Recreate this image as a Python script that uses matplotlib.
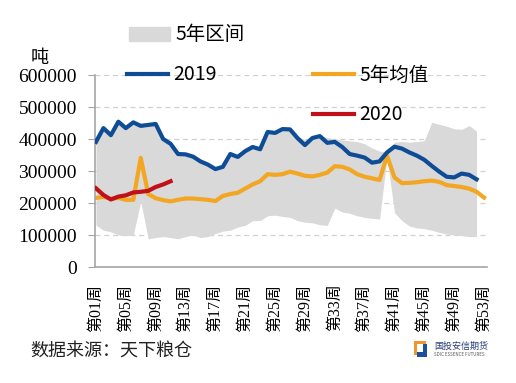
import matplotlib
matplotlib.use("Agg")
import matplotlib.pyplot as plt
from matplotlib.patches import Rectangle, Patch
from matplotlib.lines import Line2D
from matplotlib.font_manager import FontProperties
import numpy as np

# axis text is serif (digits) with CJK fallback; legend and notes are sans
plt.rcParams['font.family'] = ['Liberation Serif', 'DejaVu Serif', 'Noto Sans CJK SC']
sans = ['Noto Sans CJK SC', 'DejaVu Sans']

# weekly inventory, tonnes
weeks = np.arange(1, 54)
tick_weeks = [1, 5, 9, 13, 17, 21, 25, 29, 33, 37, 41, 45, 49, 53]
tick_labels = ["第%02d周" % w for w in tick_weeks]

y2019 = [391000, 434000, 412000, 454000, 434000, 452000, 441000, 444000, 447000, 400000,
         385000, 353000, 352000, 345000, 330000, 320000, 306000, 313000, 353000, 344000,
         362000, 375000, 368000, 422000, 419000, 431000, 430000, 403000, 381000, 403000,
         409000, 388000, 391000, 375000, 353000, 348000, 342000, 326000, 330000, 358000,
         376000, 370000, 358000, 348000, 335000, 316000, 298000, 282000, 280000, 292000,
         288000, 274000]

avg5 = [216000, 219000, 213000, 216000, 210000, 210000, 341000, 228000, 215000, 209000,
        205000, 210000, 214000, 214000, 212000, 210000, 206000, 222000, 228000, 232000,
        245000, 258000, 268000, 290000, 288000, 290000, 298000, 292000, 285000, 283000,
        288000, 295000, 315000, 313000, 305000, 290000, 282000, 277000, 272000, 348000,
        280000, 262000, 263000, 265000, 268000, 270000, 266000, 256000, 253000, 250000,
        245000, 235000, 217000]

y2020 = [246000, 225000, 211000, 220000, 224000, 233000, 235000, 238000, 250000, 258000,
         268000]

band_hi = [395000, 434000, 415000, 454000, 436000, 452000, 443000, 445000, 447000, 400000,
           385000, 355000, 352000, 345000, 332000, 322000, 308000, 315000, 355000, 346000,
           364000, 376000, 370000, 424000, 421000, 433000, 432000, 408000, 398000, 405000,
           410000, 405000, 400000, 397000, 394000, 392000, 385000, 372000, 362000, 360000,
           390000, 392000, 390000, 392000, 395000, 452000, 446000, 440000, 432000, 430000,
           442000, 425000]

band_lo = [131000, 115000, 110000, 100000, 98000, 100000, 205000, 88000, 92000, 95000,
           92000, 88000, 95000, 100000, 92000, 95000, 105000, 112000, 115000, 125000,
           130000, 145000, 145000, 160000, 162000, 158000, 155000, 145000, 140000, 138000,
           132000, 130000, 184000, 172000, 168000, 160000, 155000, 152000, 150000, 342000,
           170000, 145000, 128000, 122000, 120000, 115000, 108000, 103000, 100000, 98000,
           95000, 95000]

W, H = 516, 383
fig = plt.figure(figsize=(W / 100, H / 100), dpi=100)
ax = fig.add_axes([95 / W, 1 - 267 / H, 392 / W, 192 / H])

c_band = '#D9D9D9'
c_2019 = '#0E4C96'
c_avg = '#F2A622'
c_2020 = '#C0101A'

ax.fill_between(weeks[:len(band_hi)], band_lo, band_hi, color=c_band, lw=0, zorder=1)
ax.plot(weeks[:len(y2019)], y2019, color=c_2019, lw=3, zorder=3)
ax.plot(weeks[:len(avg5)], avg5, color=c_avg, lw=3, zorder=2)
ax.plot(weeks[:len(y2020)], y2020, color=c_2020, lw=3, zorder=4)

ax.set_xlim(0.87, 53.4)
ax.set_ylim(0, 600000)
ax.set_yticks(np.arange(0, 600001, 100000))
ax.set_yticklabels([str(v) for v in range(0, 600001, 100000)], fontsize=14)
ax.set_xticks(tick_weeks)
ax.set_xticklabels(tick_labels, rotation=90, fontsize=11.5)
ax.tick_params(axis='y', length=5, color='#A6A6A6', pad=8)
ax.tick_params(axis='x', length=0, pad=12)

ax.grid(axis='y', color='#D0D0D0', ls=(0, (4, 3)), lw=0.9)
ax.set_axisbelow(True)
for s in ['top', 'right']:
    ax.spines[s].set_visible(False)
for s in ['left', 'bottom']:
    ax.spines[s].set_color('#A6A6A6')
    ax.spines[s].set_linewidth(1.2)

fig.text(40 / W, 1 - 58 / H, "吨", fontsize=13, ha='center', va='center')

# legend entries placed one by one
legend_font = FontProperties(family=sans, size=14)

def put_legend(handle, label, x, y):
    fig.legend([handle], [label], loc='center left',
               bbox_to_anchor=(x / W, 1 - y / H), frameon=False,
               borderpad=0, borderaxespad=0, handlelength=2.1,
               handletextpad=0.3, prop=legend_font)

put_legend(Patch(color=c_band), "5年区间", 129, 35)
put_legend(Line2D([], [], color=c_2019, lw=3), "2019", 127, 75)
put_legend(Line2D([], [], color=c_avg, lw=3), "5年均值", 313, 75)
put_legend(Line2D([], [], color=c_2020, lw=3), "2020", 313, 115)

fig.text(30 / W, 1 - 352 / H, "数据来源：天下粮仓", fontsize=13, va='center',
         color='#222222', family=sans)

# company logo, bottom right
def px_rect(x0, y0, w, h, color):
    fig.add_artist(Rectangle((x0 / W, 1 - (y0 + h) / H), w / W, h / H,
                             transform=fig.transFigure, color=color, lw=0))

px_rect(414, 341, 12, 14, '#F0962A')
px_rect(417, 344, 10, 13, '#1D4F9C')
px_rect(417, 344, 6, 8, 'white')
fig.text(434 / W, 1 - 346 / H, "国投安信期货", fontsize=6.5, va='center',
         color='#2A3E78', family=sans)
fig.text(434 / W, 1 - 355 / H, "SDIC ESSENCE FUTURES", fontsize=3.2, va='center',
         color='#555555', family=sans)

fig.savefig("out.png", dpi=100)
